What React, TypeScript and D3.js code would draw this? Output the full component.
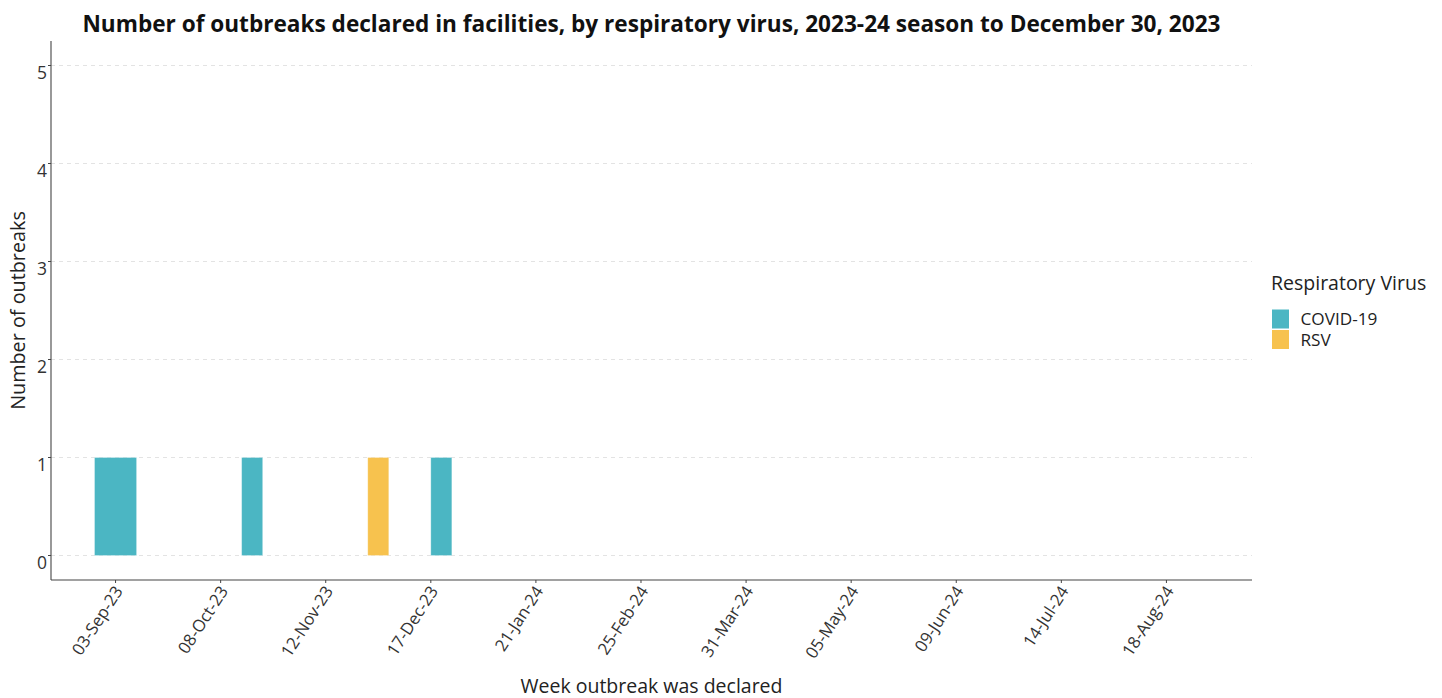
import * as d3 from 'd3';

// weekly outbreak counts, by week the outbreak was declared
const weekStart = ['2023-08-27', '2023-10-15', '2023-11-26', '2023-12-17'];
const weekEnd = ['2023-09-10', '2023-10-22', '2023-12-03', '2023-12-24'];
const covid = [1, 1, 0, 1];
const rsv = [0, 0, 1, 0];

const viruses = ['COVID-19', 'RSV'];
const colours = ['#4BB6C3', '#F7C24E'];

const tickDates = [
  '2023-09-03', '2023-10-08', '2023-11-12', '2023-12-17', '2024-01-21', '2024-02-25',
  '2024-03-31', '2024-05-05', '2024-06-09', '2024-07-14', '2024-08-18',
];
const yTicks = [0, 1, 2, 3, 4, 5];

const title = 'Number of outbreaks declared in facilities, by respiratory virus, 2023-24 season to December 30, 2023';
const xTitle = 'Week outbreak was declared';
const yTitle = 'Number of outbreaks';
const legendTitle = 'Respiratory Virus';

const W = 1442;
const H = 698;
const margin = { left: 51, right: 190, top: 41, bottom: 118 };
const font = '"Open Sans", "Noto Sans", sans-serif';

const parse = d3.utcParse('%Y-%m-%d');
const fmt = d3.utcFormat('%d-%b-%y');

export default function App() {
  const x = d3
    .scaleUtc()
    .domain([new Date(Date.UTC(2023, 7, 12, 12)), new Date(Date.UTC(2024, 8, 15, 12))])
    .range([margin.left, W - margin.right]);
  const y = d3
    .scaleLinear()
    .domain([-0.25, 5.25])
    .range([H - margin.bottom, margin.top]);

  const rows = weekStart.map((d, i) => ({ start: parse(d)!, end: parse(weekEnd[i])!, 'COVID-19': covid[i], RSV: rsv[i] }));
  const series = d3.stack<any>().keys(viruses)(rows);
  const colour = d3.scaleOrdinal<string, string>().domain(viruses).range(colours);

  const [x0, x1] = x.range();
  const [yb, yt] = y.range();

  return (
    <svg
      width={W}
      height={H}
      style={{ display: 'block', position: 'fixed', left: 0, top: 0 }}
      fontFamily={font}
    >
      <rect width={W} height={H} fill="white" />
      <text x={(x0 + x1) / 2} y={32} textAnchor="middle" fontSize={22.6} fontWeight="bold" fill="#111">
        {title}
      </text>

      {/* grid */}
      {yTicks.map((t) => (
        <line key={t} x1={x0} x2={x1} y1={y(t)} y2={y(t)} stroke="#e3e3e3" strokeDasharray="4,4" strokeWidth={1} />
      ))}

      {/* bars */}
      {series.map((s) => (
        <g key={s.key} fill={colour(s.key)}>
          {s
            .filter((d) => d[1] - d[0] > 0)
            .map((d, i) => (
              <rect
                key={i}
                x={x(d.data.start)}
                width={x(d.data.end) - x(d.data.start)}
                y={y(d[1])}
                height={y(d[0]) - y(d[1])}
                stroke="white"
                strokeOpacity={0.35}
                strokeWidth={0.8}
              />
            ))}
        </g>
      ))}

      {/* axes */}
      <line x1={x0} x2={x0} y1={yt} y2={yb} stroke="#444" strokeWidth={1.1} />
      <line x1={x0} x2={x1} y1={yb} y2={yb} stroke="#444" strokeWidth={1.1} />
      {yTicks.map((t) => (
        <g key={t}>
          <line x1={x0 - 3} x2={x0} y1={y(t)} y2={y(t)} stroke="#444" />
          <text x={x0 - 4} y={y(t) + 13} textAnchor="end" fontSize={17.5} fill="#333">
            {t}
          </text>
        </g>
      ))}
      {tickDates.map((t) => {
        const px = x(parse(t)!);
        return (
          <g key={t}>
            <line x1={px} x2={px} y1={yb} y2={yb + 3} stroke="#444" />
            <text
              transform={`translate(${px + 8},${yb + 11}) rotate(-57)`}
              textAnchor="end"
              fontSize={16.8}
              fill="#333"
            >
              {fmt(parse(t)!)}
            </text>
          </g>
        );
      })}
      <text x={(x0 + x1) / 2} y={693} textAnchor="middle" fontSize={19.5} fill="#222">
        {xTitle}
      </text>
      <text transform={`translate(${25},${(yt + yb) / 2}) rotate(-90)`} textAnchor="middle" fontSize={19.8} fill="#222">
        {yTitle}
      </text>

      {/* legend */}
      <text x={1271} y={290} fontSize={19.5} fill="#222">
        {legendTitle}
      </text>
      {viruses.map((v, i) => (
        <g key={v} transform={`translate(1271.5,${309 + i * 20.5})`}>
          <rect width={18} height={20} fill={colour(v)} stroke="white" strokeWidth={1} />
          <text x={29} y={16} fontSize={17.2} fill="#222">
            {v}
          </text>
        </g>
      ))}
    </svg>
  );
}
